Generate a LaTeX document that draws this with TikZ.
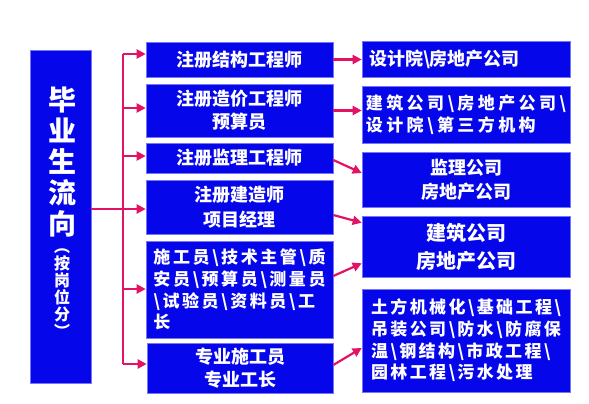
\documentclass[tikz,border=0pt]{standalone}
\usepackage{fontspec}
\newfontfamily\hei{Noto Sans CJK SC}
\usetikzlibrary{arrows.meta}
\definecolor{boxblue}{RGB}{6,6,235}
\definecolor{flowred}{RGB}{226,18,100}
\newcommand{\bsl}{\textbackslash}
\tikzset{
  box/.style={fill=boxblue, draw=boxblue!55!white, line width=0.6pt, text=white,
    inner sep=0pt, align=center, font=\hei\bfseries\fontsize{18}{23}\selectfont},
  wire/.style={draw=flowred, line width=2.2pt},
  flow/.style={wire, -{Triangle[length=9pt,width=9pt]}},
}
\begin{document}
\begin{tikzpicture}[x=1pt, y=-1pt]
    \useasboundingbox (0,0) rectangle (589,404);
    % left column
    \node[box, minimum width=61, minimum height=333] (grad) at (60.5,216.5) {};
    \node[text=white, align=center, font=\hei\bfseries\fontsize{28}{31}\selectfont] (title) at (62,162) {毕\\业\\生\\流\\向};
    \node[text=white, align=center, font=\hei\bfseries\fontsize{16}{17}\selectfont] (sub) at (62,293) {︵\\按\\岗\\位\\分\\︶};
    % positions
    \node[box, minimum width=187, minimum height=35] (m1) at (239.5,59.5) {注册结构工程师};
    \node[box, minimum width=187, minimum height=53] (m2) at (239.5,110.5) {注册造价工程师\\预算员};
    \node[box, minimum width=187, minimum height=30] (m3) at (239.5,158) {注册监理工程师};
    \node[box, minimum width=187, minimum height=54, font=\hei\bfseries\fontsize{18}{25}\selectfont] (m4) at (239.5,207) {注册建造师\\项目经理};
    \node[box, minimum width=187, minimum height=97, align=left, font=\hei\bfseries\fontsize{17}{21.7}\selectfont\addfontfeatures{LetterSpace=15}] (m5) at (239.5,289.5) {施工员\bsl 技术主管\bsl 质\\安员\bsl 预算员\bsl 测量员\\\bsl 试验员\bsl 资料员\bsl 工\\长};
    \node[box, minimum width=186, minimum height=50] (m6) at (240,368) {专业施工员\\专业工长};
    % employers
    \node[box, minimum width=208, minimum height=36, text width=194, align=left] (r1) at (466,59) {设计院\bsl 房地产公司};
    \node[box, minimum width=208, minimum height=57, align=left, font=\hei\bfseries\fontsize{17}{22}\selectfont\addfontfeatures{LetterSpace=20}] (r2) at (466,114.5) {建筑公司\bsl 房地产公司\bsl\\设计院\bsl 第三方机构};
    \node[box, minimum width=208, minimum height=55, font=\hei\bfseries\fontsize{18}{24}\selectfont] (r3) at (466,179.5) {监理公司\\房地产公司};
    \node[box, minimum width=208, minimum height=61, font=\hei\bfseries\fontsize{20}{28}\selectfont] (r4) at (466,246.5) {建筑公司\\房地产公司};
    \node[box, minimum width=208, minimum height=103, align=left, font=\hei\bfseries\fontsize{17}{21.7}\selectfont\addfontfeatures{LetterSpace=14}] (r5) at (466,340.5) {土方机械化\bsl 基础工程\bsl\\吊装公司\bsl 防水\bsl 防腐保\\温\bsl 钢结构\bsl 市政工程\bsl\\园林工程\bsl 污水处理};
    % branching
    \foreach \i/\y in {1/54,2/108,3/156,4/209,5/289,6/364} {
      \coordinate (t\i) at (123,\y);
      \draw[flow] (t\i) -- (t\i -| m\i.west);
    }
    \draw[wire] (t1) -- (t6);
    \draw[wire] (grad.east |- t4) -- (t4);
    \draw[flow] (m1.east) -- (m1.east -| r1.west);
    \draw[flow] (m2.east) -- (m2.east -| r2.west);
    \draw[flow] ([yshift=-2pt]m3.east) -- ([yshift=6.5pt]r3.west);
    \draw[flow] ([yshift=-8pt]m4.east) -- ([yshift=-7pt]r4.north west);
    \draw[flow] ([yshift=13.5pt]m5.east) -- ([yshift=14pt]r4.south west);
    \draw[flow] ([yshift=3pt]m6.east) -- ([yshift=-7.5pt]r5.west);
\end{tikzpicture}
\end{document}
